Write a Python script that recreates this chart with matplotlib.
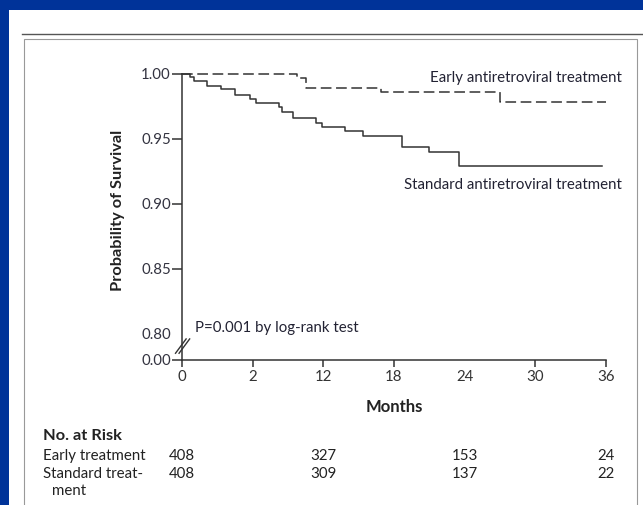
import matplotlib
matplotlib.use("Agg")
import matplotlib.pyplot as plt
from matplotlib.patches import Rectangle
from matplotlib.lines import Line2D
from matplotlib.transforms import blended_transform_factory

plt.rcParams['font.family'] = ['Lato', 'DejaVu Sans']

# Kaplan-Meier steps (months, survival probability after the step)
early_months = [0, 9.8, 10.5, 16.9, 27.0, 36.0]
early_surv = [1.000, 0.997, 0.9895, 0.9864, 0.9787, 0.9787]

std_months = [0, 0.65, 1.0, 2.15, 3.35, 4.5, 5.75, 6.25, 8.25, 8.45, 9.45,
              11.4, 11.9, 13.85, 15.4, 18.7, 21.0, 23.5, 35.7]
std_surv = [1.000, 0.998, 0.9946, 0.9908, 0.9882, 0.9838, 0.981, 0.978, 0.9748,
            0.971, 0.9664, 0.9625, 0.9595, 0.9564, 0.9526, 0.944, 0.940, 0.929, 0.929]

x_ticks = [0, 6, 12, 18, 24, 30, 36]
x_tick_labels = ['0', '2', '12', '18', '24', '30', '36']
y_ticks = [0.78, 0.80, 0.85, 0.90, 0.95, 1.00]
y_tick_labels = ['0.00', '0.80', '0.85', '0.90', '0.95', '1.00']

risk_months = [0, 12, 24, 36]
risk_early = [408, 327, 153, 24]
risk_standard = [408, 309, 137, 22]

W, H = 643, 505
FS = 10.8
fig = plt.figure(figsize=(W / 100, H / 100), dpi=100)
fig.patch.set_facecolor('#003399')

# white page, rule and frame
fig.add_artist(Rectangle((9 / W, 0), 1, 1 - 10 / H, transform=fig.transFigure,
                         facecolor='white', edgecolor='none', zorder=0))
fig.add_artist(Line2D([22 / W, 1], [1 - 34 / H] * 2, transform=fig.transFigure,
                      color='#555555', lw=1.0))
fig.add_artist(Rectangle((24 / W, -0.1), (637 - 24) / W, 1 - 39 / H + 0.1,
                         transform=fig.transFigure, fill=False,
                         edgecolor='#999999', lw=0.8))

ax = fig.add_axes([182 / W, 1 - 360 / H, 424 / W, 286 / H])
ax.set_facecolor('none')

ink = '#333333'
ax.step(early_months, early_surv, where='post', color=ink, lw=1.1,
        dashes=(7, 3), clip_on=False)
ax.step(std_months, std_surv, where='post', color=ink, lw=1.1, clip_on=False)

ax.set_xlim(0, 36)
ax.set_ylim(0.78, 1.0)
for s in ['top', 'right']:
    ax.spines[s].set_visible(False)
for s in ['left', 'bottom']:
    ax.spines[s].set_color(ink)
    ax.spines[s].set_linewidth(1.1)

ax.set_xticks(x_ticks)
ax.set_xticklabels(x_tick_labels)
ax.set_yticks(y_ticks)
ax.set_yticklabels(y_tick_labels)
ax.tick_params(axis='x', length=5, width=1.1, color=ink, labelsize=FS,
               labelcolor='#333333', pad=2)
ax.tick_params(axis='y', length=7, width=1.1, color=ink, labelsize=FS,
               labelcolor='#333340', pad=1)
# no tick mark at 24 months nor at the 0.80 break
ax.xaxis.get_major_ticks()[4].tick1line.set_visible(False)
ax.yaxis.get_major_ticks()[1].tick1line.set_visible(False)

# axis break marks
for dx in (0, 0.3):
    ax.plot([-0.55 + dx, 0.35 + dx], [0.7852, 0.7962], color=ink, lw=1.0,
            clip_on=False)

ax.text(-0.151, 0.524, 'Probability of Survival', rotation=90, fontsize=11.8,
        fontweight='bold', color='#222222', ha='center', va='center',
        transform=ax.transAxes)
ax.text(0.5, -0.164, 'Months', fontsize=12, fontweight='bold', color='#222222',
        ha='center', va='center', transform=ax.transAxes)

ax.text(37.35, 0.997, 'Early antiretroviral treatment', fontsize=FS,
        color='#222233', ha='right', va='center', clip_on=False)
ax.text(37.35, 0.9146, 'Standard antiretroviral treatment', fontsize=FS,
        color='#222233', ha='right', va='center', clip_on=False)
ax.text(1.1, 0.8046, 'P=0.001 by log-rank test', fontsize=FS, color='#222233',
        ha='left', va='center')

# number at risk table
tr = blended_transform_factory(ax.transData, fig.transFigure)
fig.text(43 / W, 1 - 436 / H, 'No. at Risk', fontsize=11.8, fontweight='bold',
         color='#222222', va='center')
fig.text(43 / W, 1 - 456 / H, 'Early treatment', fontsize=FS, color='#222222',
         va='center')
fig.text(43 / W, 1 - 474 / H, 'Standard treat-', fontsize=FS, color='#222222',
         va='center')
fig.text(52 / W, 1 - 491 / H, 'ment', fontsize=FS, color='#222222', va='center')
for m, e, s in zip(risk_months, risk_early, risk_standard):
    ax.text(m, 1 - 456 / H, str(e), transform=tr, fontsize=FS, color='#222222',
            ha='center', va='center')
    ax.text(m, 1 - 474 / H, str(s), transform=tr, fontsize=FS, color='#222222',
            ha='center', va='center')

fig.savefig('out.png', dpi=100, facecolor=fig.get_facecolor())
